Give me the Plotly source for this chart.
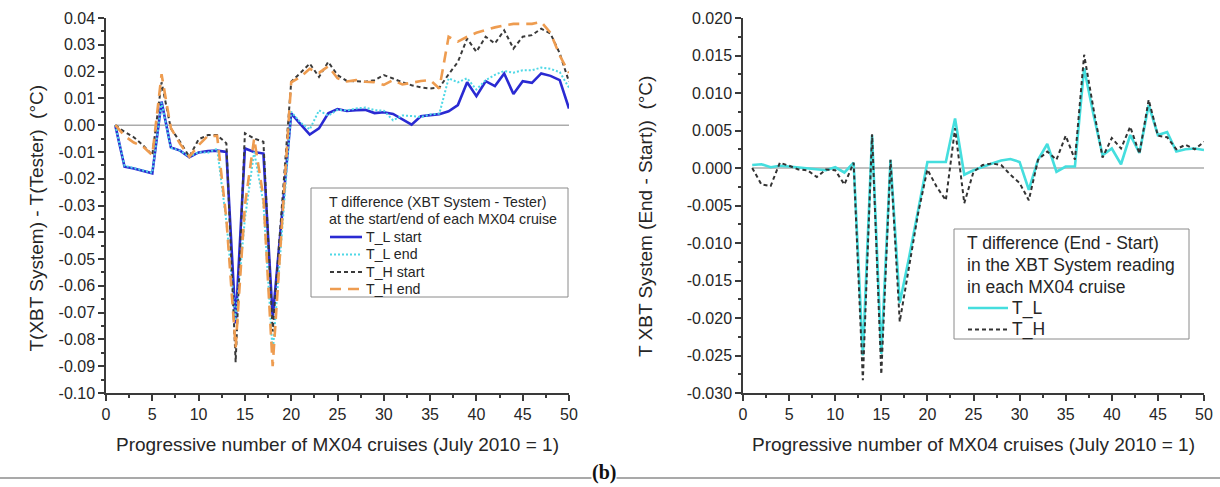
import plotly.graph_objects as go

# ---- data -----------------------------------------------------------------
cruise = list(range(1, 51))

# T difference (XBT System - Tester), degC, at start / end of each cruise
tl_start = [0.0, -0.0155, -0.0162, -0.0170, -0.0180, 0.0088, -0.0083, -0.0095, -0.0120, -0.0102,
            -0.0097, -0.0095, -0.0100, -0.0740, -0.0087, -0.0100, -0.0106, -0.0720, -0.0340, 0.0044,
            0.0004, -0.0035, -0.0012, 0.0044, 0.0060, 0.0053, 0.0056, 0.0057, 0.0045, 0.0048,
            0.0042, 0.0022, 0.0002, 0.0033, 0.0038, 0.0041, 0.0052, 0.0075, 0.0160, 0.0108,
            0.0164, 0.0146, 0.0193, 0.0116, 0.0164, 0.0158, 0.0193, 0.0184, 0.0168, 0.0062]
tl_end = [0.0, -0.0152, -0.0160, -0.0168, -0.0178, 0.0085, -0.0085, -0.0095, -0.0118, -0.0101,
          -0.0103, -0.0088, -0.0360, -0.0730, -0.0350, -0.0100, -0.0290, -0.0850, -0.0400, 0.0050,
          0.0010, -0.0016, 0.0055, 0.0035, 0.0057, 0.0055, 0.0062, 0.0066, 0.0056, 0.0054,
          0.0018, 0.0036, 0.0034, 0.0030, 0.0040, 0.0043, 0.0175, 0.0160, 0.0175, 0.0133,
          0.0168, 0.0188, 0.0202, 0.0196, 0.0205, 0.0205, 0.0215, 0.0210, 0.0198, 0.0140]
th_start = [0.0, -0.0025, -0.0045, -0.0075, -0.0112, 0.0160, -0.0012, -0.0062, -0.0118, -0.0053,
            -0.0037, -0.0037, -0.0068, -0.0885, -0.0030, -0.0050, -0.0062, -0.0770, -0.0300, 0.0162,
            0.0195, 0.0230, 0.0180, 0.0236, 0.0187, 0.0165, 0.0164, 0.0162, 0.0168, 0.0187,
            0.0174, 0.0160, 0.0149, 0.0141, 0.0137, 0.0140, 0.0190, 0.0236, 0.0323, 0.0274,
            0.0330, 0.0305, 0.0354, 0.0286, 0.0330, 0.0336, 0.0360, 0.0342, 0.0268, 0.0162]
th_end = [0.0, -0.0040, -0.0065, -0.0080, -0.0112, 0.0190, -0.0010, -0.0070, -0.0118, -0.0075,
          -0.0040, -0.0040, -0.0350, -0.0830, -0.0300, -0.0050, -0.0270, -0.0900, -0.0370, 0.0160,
          0.0180, 0.0210, 0.0195, 0.0220, 0.0175, 0.0163, 0.0168, 0.0162, 0.0160, 0.0150,
          0.0168, 0.0152, 0.0158, 0.0165, 0.0168, 0.0137, 0.0330, 0.0312, 0.0330, 0.0345,
          0.0355, 0.0365, 0.0372, 0.0378, 0.0378, 0.0378, 0.0385, 0.0345, 0.0260, 0.0195]

# T difference (End - Start) in the XBT System reading, degC
tl_diff = [0.0004, 0.0005, 0.0001, 0.0003, 0.0002, 0.0001, 0.0000, -0.0002, -0.0003, 0.0001,
           -0.0006, 0.0007, -0.0250, 0.0044, -0.0248, 0.0011, -0.0180, -0.0120, -0.0055, 0.0008,
           0.0008, 0.0008, 0.0066, -0.0009, -0.0003, 0.0002, 0.0006, 0.0010, 0.0012, 0.0008,
           -0.0029, 0.0011, 0.0032, -0.0005, 0.0002, 0.0002, 0.0133, 0.0072, 0.0017, 0.0026,
           0.0005, 0.0044, 0.0020, 0.0084, 0.0044, 0.0048, 0.0022, 0.0025, 0.0026, 0.0024]
th_diff = [0.0000, -0.0022, -0.0024, 0.0007, 0.0003, -0.0002, -0.0003, -0.0012, -0.0002, -0.0003,
           -0.0022, 0.0007, -0.0283, 0.0045, -0.0275, 0.0011, -0.0205, -0.0130, -0.0060, -0.0002,
           -0.0025, -0.0043, 0.0053, -0.0047, -0.0005, 0.0004, 0.0006, 0.0004, -0.0009, -0.0020,
           -0.0043, 0.0011, 0.0022, 0.0011, 0.0043, 0.0011, 0.0151, 0.0080, 0.0014, 0.0040,
           0.0026, 0.0055, 0.0019, 0.0091, 0.0043, 0.0041, 0.0025, 0.0031, 0.0025, 0.0035]

# series names
left_names = ["T_L start", "T_L end", "T_H start", "T_H end"]
right_names = ["T_L", "T_H"]

# axis ticks
x_ticks = [0, 5, 10, 15, 20, 25, 30, 35, 40, 45, 50]
y1_ticks = [0.04, 0.03, 0.02, 0.01, 0.00, -0.01, -0.02, -0.03, -0.04, -0.05,
            -0.06, -0.07, -0.08, -0.09, -0.10]
y1_labels = ["0.04", "0.03", "0.02", "0.01", "0.00", "-0.01", "-0.02", "-0.03", "-0.04", "-0.05",
             "-0.06", "-0.07", "-0.08", "-0.09", "-0.10"]
y2_ticks = [0.020, 0.015, 0.010, 0.005, 0.000, -0.005, -0.010, -0.015, -0.020, -0.025, -0.030]
y2_labels = ["0.020", "0.015", "0.010", "0.005", "0.000", "-0.005", "-0.010", "-0.015",
             "-0.020", "-0.025", "-0.030"]

x_title = "Progressive number of MX04 cruises (July 2010 = 1)"
left_header = ["T difference (XBT System - Tester)", "at the start/end of each MX04 cruise"]
right_header = ["T difference (End - Start)", "in the XBT System reading", "in each MX04 cruise"]

# ---- styling --------------------------------------------------------------
W, H = 1220, 487
FONT = "Liberation Sans, Arial, sans-serif"
AX = "#3a3a3a"
TXT = "#262626"

left_styles = [dict(color="#2a2ad2", width=2.6),
               dict(color="#4fd8e6", width=2, dash="2px,2px"),
               dict(color="#3a3a3a", width=2, dash="4px,3px"),
               dict(color="#ee9c50", width=2.6, dash="11px,7px")]
right_styles = [dict(color="#45dede", width=2.6),
                dict(color="#333333", width=2, dash="4px,3px")]

fig = go.Figure()

for name, ys, st in zip(left_names, [tl_start, tl_end, th_start, th_end], left_styles):
    fig.add_trace(go.Scatter(x=cruise, y=ys, name=name, mode="lines", line=st,
                             showlegend=False, xaxis="x", yaxis="y"))
for name, ys, st in zip(right_names, [tl_diff, th_diff], right_styles):
    fig.add_trace(go.Scatter(x=cruise, y=ys, name=name, mode="lines", line=st,
                             showlegend=False, xaxis="x2", yaxis="y2"))


def xaxis(domain, anchor):
    return dict(domain=domain, anchor=anchor, range=[0, 50], tickmode="array", tickvals=x_ticks,
                ticks="outside", ticklen=6, tickwidth=1.5, tickcolor=AX, automargin=False,
                minor=dict(dtick=2.5, ticks="outside", ticklen=3, tickwidth=1.5, tickcolor=AX),
                showline=True, linecolor=AX, linewidth=1.5, showgrid=False, zeroline=False,
                tickfont=dict(size=16, color=TXT, family=FONT),
                title=dict(text=x_title, font=dict(size=19, color=TXT, family=FONT), standoff=16))


def yaxis(domain, anchor, rng, vals, labels, minor_dtick):
    return dict(domain=domain, anchor=anchor, range=rng, tickmode="array", tickvals=vals,
                ticktext=labels, ticks="outside", ticklen=6, tickwidth=1.5, tickcolor=AX,
                automargin=False,
                minor=dict(dtick=minor_dtick, ticks="outside", ticklen=3, tickwidth=1.5,
                           tickcolor=AX),
                showline=True, linecolor=AX, linewidth=1.5, showgrid=False, zeroline=False,
                tickfont=dict(size=16, color=TXT, family=FONT))


ydom = [1 - 393 / H, 1 - 18 / H]
fig.update_layout(
    width=W, height=H, autosize=False,
    margin=dict(l=0, r=0, t=0, b=0, pad=0),
    paper_bgcolor="white", plot_bgcolor="white",
    font=dict(family=FONT, color=TXT),
    showlegend=False,
    xaxis=xaxis([106 / W, 569 / W], "y"),
    yaxis=yaxis(ydom, "x", [-0.10, 0.04], y1_ticks, y1_labels, 0.005),
    xaxis2=xaxis([743 / W, 1204 / W], "y2"),
    yaxis2=yaxis(ydom, "x2", [-0.030, 0.020], y2_ticks, y2_labels, 0.0025),
)

# zero reference lines across the cruise span
for xr, yr in (("x", "y"), ("x2", "y2")):
    fig.add_shape(type="line", xref=xr, yref=yr, x0=cruise[0], x1=cruise[-1], y0=0, y1=0,
                  line=dict(color="#ababab", width=1.5), layer="below")


def px_x(v):
    return v / W


def px_y(v):
    return 1 - v / H


def draw_legend(box, header, names, styles, text_x, sample, rows_y, size):
    x0, y0, x1, y1 = box
    fig.add_shape(type="rect", xref="paper", yref="paper", x0=px_x(x0), x1=px_x(x1),
                  y0=px_y(y1), y1=px_y(y0), line=dict(color="#8a8a8a", width=1),
                  fillcolor="white", layer="above")
    rows = header + names
    for i, label in enumerate(rows):
        is_item = i >= len(header)
        fig.add_annotation(text=label, xref="paper", yref="paper",
                           x=px_x(text_x[1] if is_item else text_x[0]), y=px_y(rows_y[i]),
                           xanchor="left", yanchor="middle", showarrow=False,
                           font=dict(size=size, color=TXT, family=FONT))
        if is_item:
            st = styles[i - len(header)]
            fig.add_shape(type="line", xref="paper", yref="paper",
                          x0=px_x(sample[0]), x1=px_x(sample[1]),
                          y0=px_y(rows_y[i]), y1=px_y(rows_y[i]),
                          line=dict(color=st["color"], width=st["width"],
                                    dash=st.get("dash", "solid")))


draw_legend((311, 188, 568, 297), left_header, left_names, left_styles,
            (327, 364), (330, 362), [202, 219.5, 237, 254.5, 272, 289], 14.2)
draw_legend((954, 229, 1189, 339), right_header, right_names, right_styles,
            (965, 1010), (968, 1008), [243, 265, 286.5, 308, 329.5], 17.5)

# rotated y-axis titles
fig.add_annotation(text="T(XBT System) - T(Tester)  (°C)", xref="paper", yref="paper",
                   x=px_x(23), y=px_y(218), textangle=-90, showarrow=False,
                   font=dict(size=19, color=TXT, family=FONT))
fig.add_annotation(text="T XBT System (End - Start))  (°C)", xref="paper", yref="paper",
                   x=px_x(645), y=px_y(217), textangle=-90, showarrow=False,
                   font=dict(size=19, color=TXT, family=FONT))

# panel caption with rule
fig.add_shape(type="line", xref="paper", yref="paper", x0=0, x1=1, y0=px_y(478), y1=px_y(478),
              line=dict(color="#8c8c8c", width=1.5))
fig.add_annotation(text="<b>(b)</b>", xref="paper", yref="paper", x=px_x(604), y=px_y(472),
                   xanchor="center", yanchor="middle", showarrow=False, bgcolor="white",
                   borderpad=0,
                   font=dict(size=20, color="#111111", family="Liberation Serif, Times New Roman"))

fig.write_html("out.html")
